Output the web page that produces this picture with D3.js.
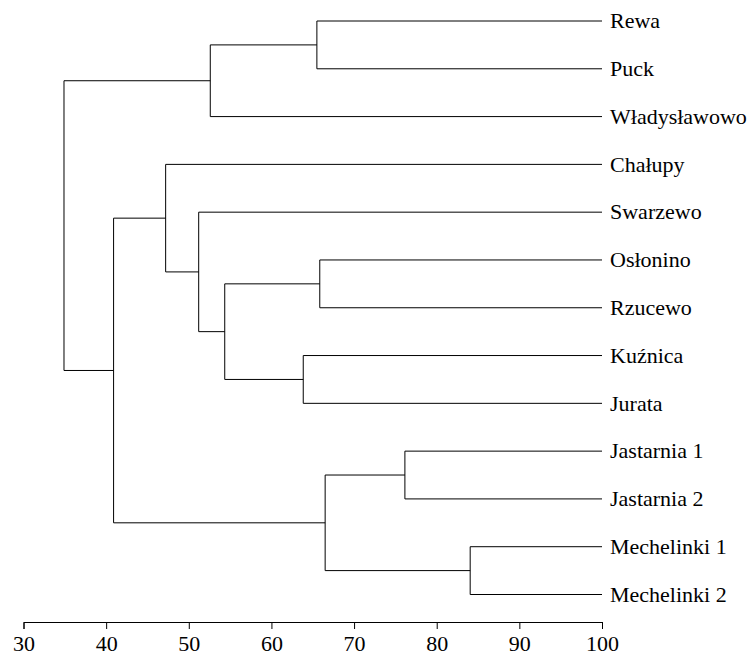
<!DOCTYPE html>
<html>
<head>
<meta charset="utf-8">
<script src="https://cdn.jsdelivr.net/npm/d3@7"></script>
<style>
  body { margin: 0; background: #fff; }
  text { font-family: "Liberation Serif", "Times New Roman", serif; }
</style>
</head>
<body>
<svg id="chart" width="752" height="655"></svg>
<script>
var WIDTH = 752;
var HEIGHT = 655;

// leaf order top to bottom
var leaves = ["Rewa", "Puck", "Władysławowo", "Chałupy", "Swarzewo", "Osłonino",
  "Rzucewo", "Kuźnica", "Jurata", "Jastarnia 1", "Jastarnia 2", "Mechelinki 1", "Mechelinki 2"];

// merges, hclust style: negative = leaf index (1-based), positive = earlier merge
var mergeLeft  = [-1, -6, -8, -10, -12, 1, 2, -5, -4, 4, 9, 6];
var mergeRight = [-2, -7, -9, -11, -13, -3, 3, 7, 8, 5, 10, 11];
var mergeHeight = [65.5, 65.85, 63.85, 76.15, 84.05, 52.6, 54.35, 51.2, 47.2, 66.5, 40.9, 34.9];

var axisTicks = [30, 40, 50, 60, 70, 80, 90, 100];
var leafHeight = 100;

var svg = d3.select('#chart');

var x = d3.scaleLinear()
  .domain([30, 100])
  .range([23.5, 602]);

var y = d3.scalePoint()
  .domain(leaves)
  .range([21, 594.5]);

// build nodes
var built = [];
function getNode(id){
  if (id < 0){
    var name = leaves[-id - 1];
    return {name: name, h: leafHeight, y: y(name)};
  }
  return built[id - 1];
}
for (var i = 0; i < mergeHeight.length; i++){
  var a = getNode(mergeLeft[i]);
  var b = getNode(mergeRight[i]);
  built.push({h: mergeHeight[i], y: (a.y + b.y) / 2, children: [a, b]});
}

var g = svg.append('g').attr('class', 'tree');

built.forEach(function(n){
  var a = n.children[0], b = n.children[1];
  // vertical
  g.append('line')
    .attr('x1', x(n.h)).attr('x2', x(n.h))
    .attr('y1', a.y).attr('y2', b.y)
    .attr('stroke', '#000')
    .attr('stroke-width', 1);
  n.children.forEach(function(c){
    g.append('line')
      .attr('x1', x(n.h)).attr('x2', x(c.h))
      .attr('y1', c.y).attr('y2', c.y)
      .attr('stroke', '#000')
      .attr('stroke-width', 1);
  });
});

svg.selectAll('.leaf_label')
  .data(leaves)
  .enter()
  .append('text')
  .attr('class', 'leaf_label')
  .attr('x', x(100) + 8)
  .attr('y', d => y(d))
  .attr('dy', '0.33em')
  .attr('font-size', 22)
  .attr('fill', '#000')
  .text(d => d);

var axis = svg.append('g')
  .attr('transform', 'translate(0,622)')
  .call(d3.axisBottom(x).tickValues(axisTicks).tickSize(7).tickSizeOuter(7).tickPadding(6));

axis.select('.domain').attr('stroke', '#000');
axis.selectAll('.tick line').attr('stroke', '#000');
axis.selectAll('.tick text')
  .attr('font-family', '"Liberation Serif", "Times New Roman", serif')
  .attr('font-size', 22)
  .attr('fill', '#000');
</script>
</body>
</html>
